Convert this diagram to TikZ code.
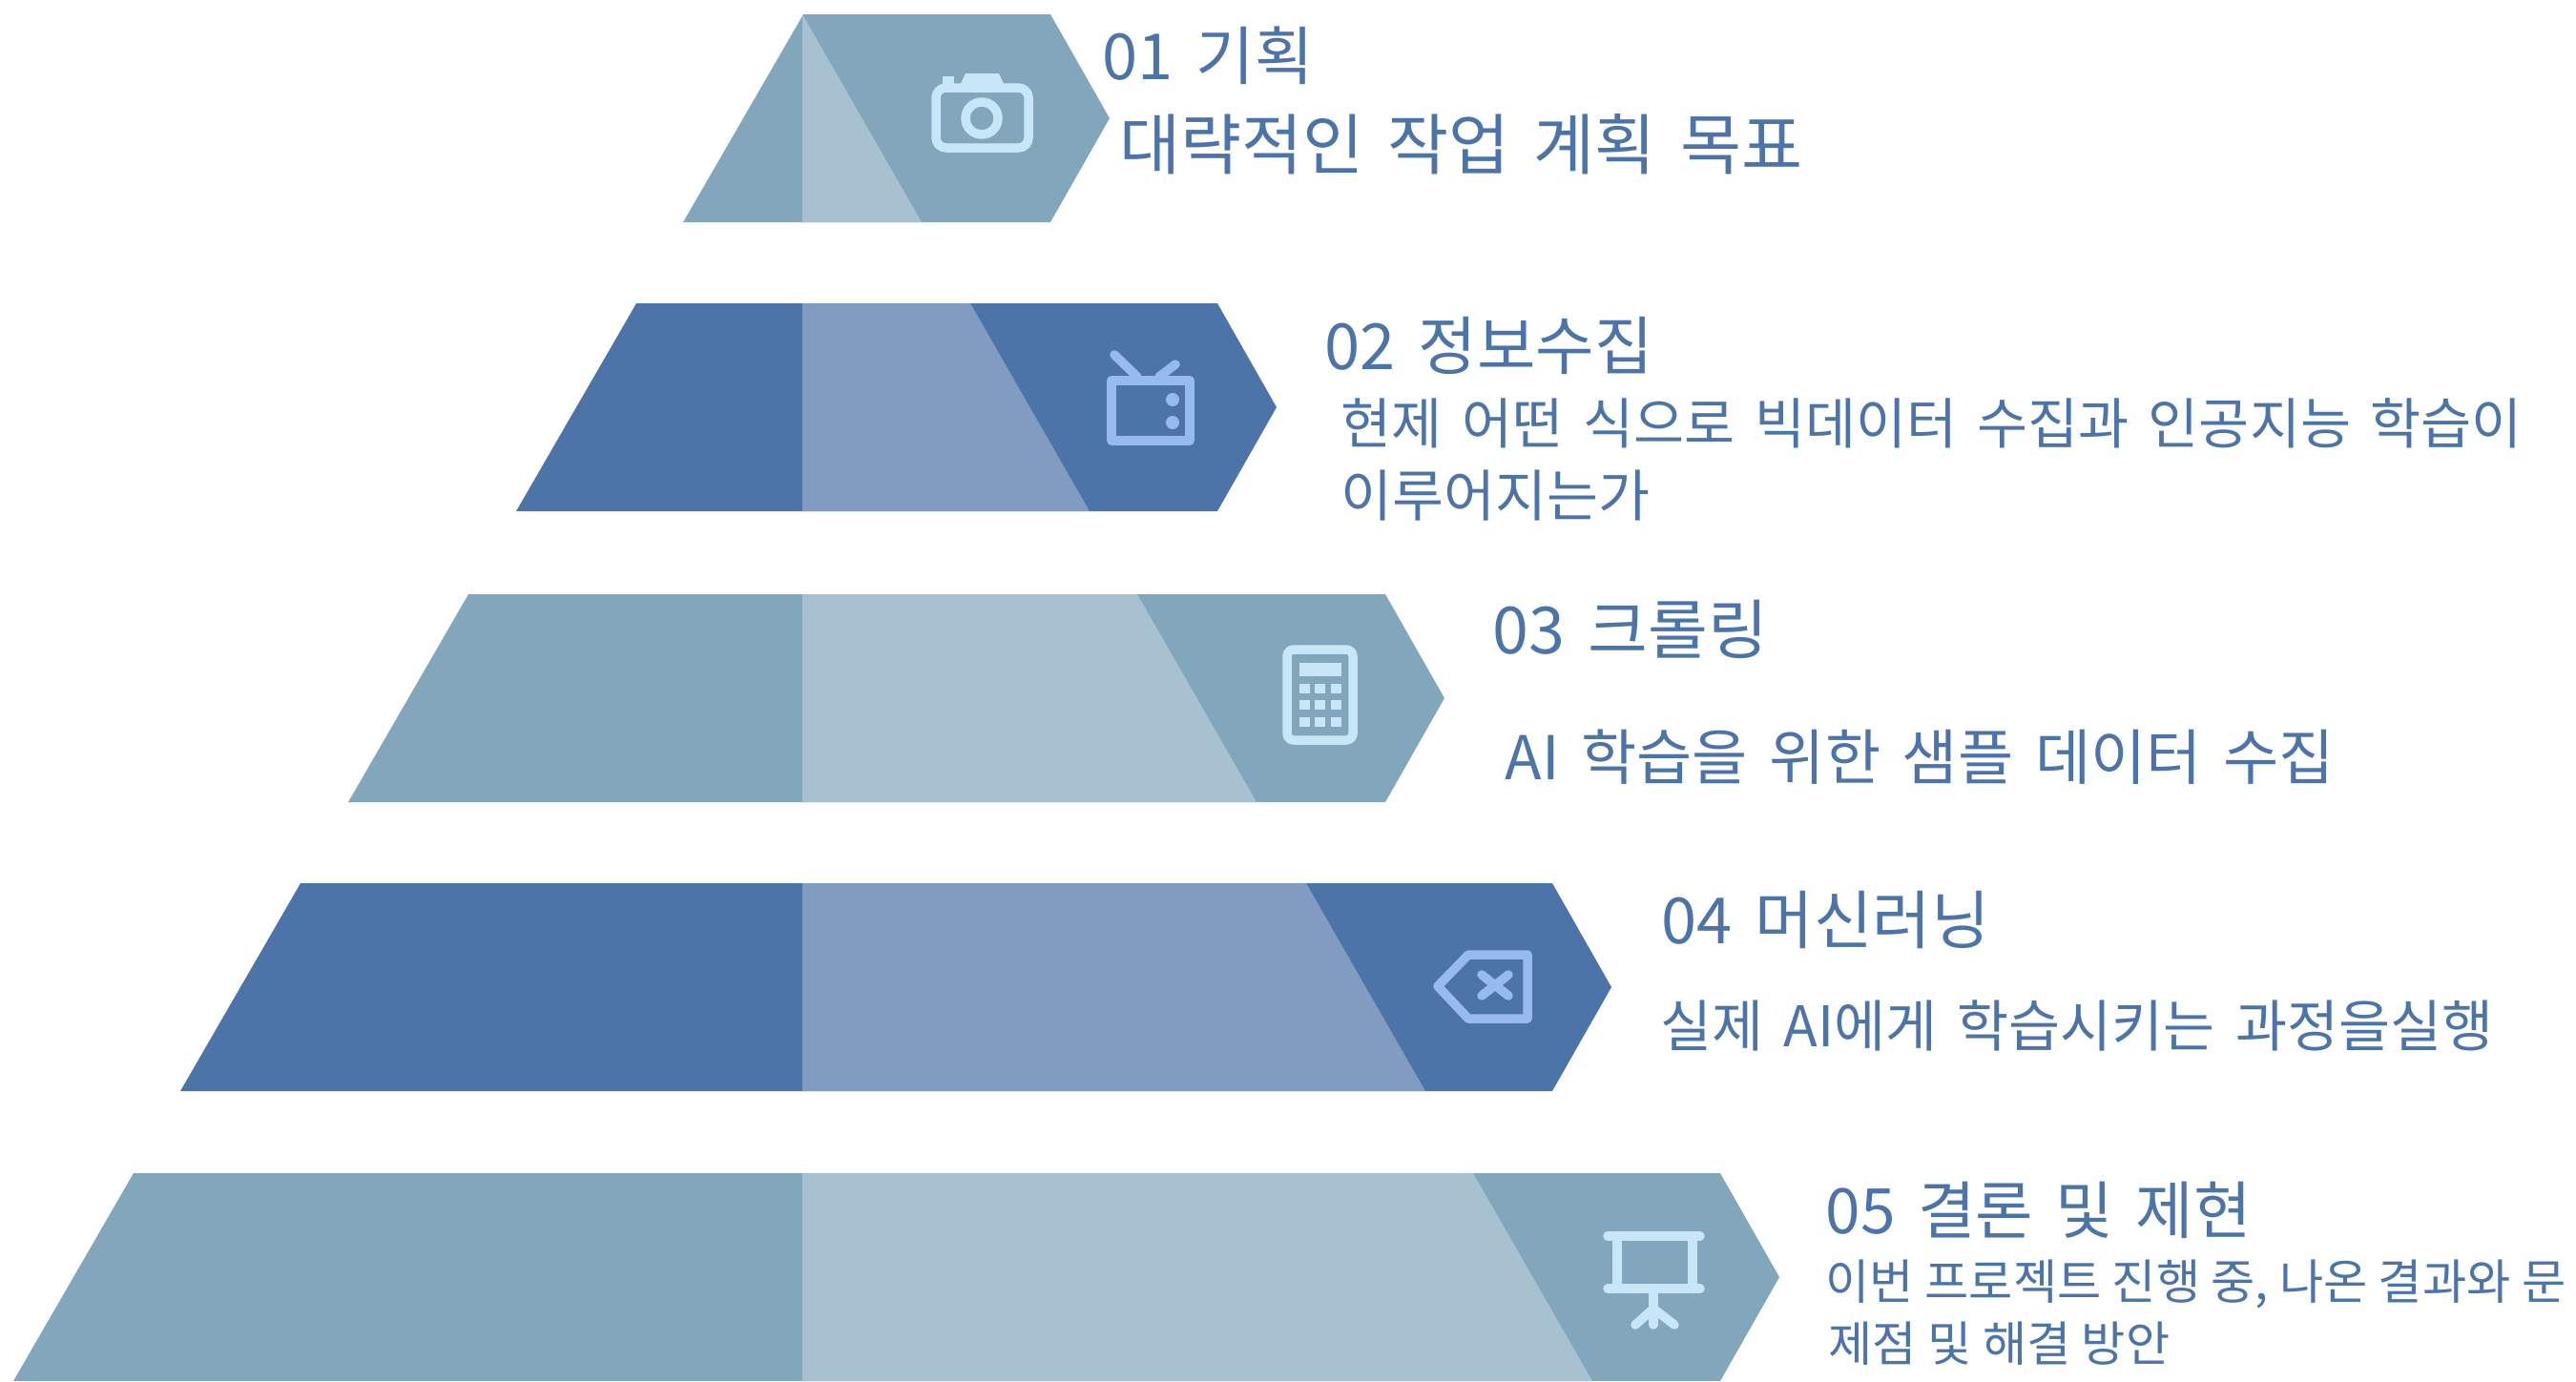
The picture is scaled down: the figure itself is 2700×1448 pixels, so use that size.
\documentclass[tikz,border=0pt]{standalone}
\usepackage{fontspec}
\setmainfont{Noto Sans CJK KR}[WordSpace=1.6]
\newfontfamily\tightfont{Noto Sans CJK KR}
\definecolor{tealband}{HTML}{82A7BC}
\definecolor{tealpale}{HTML}{A7C1D0}
\definecolor{tealicon}{HTML}{C9E6F8}
\definecolor{blueband}{HTML}{4C74A8}
\definecolor{bluepale}{HTML}{819CC0}
\definecolor{blueicon}{HTML}{98BBEF}
\tikzset{
  headline/.style={anchor=base west, inner sep=0pt, text=blueband, font=\fontsize{19}{23}\selectfont},
  bodyline/.style={anchor=base west, inner sep=0pt, text=blueband, font=\fontsize{16.4}{20}\selectfont},
  smallline/.style={anchor=base west, inner sep=0pt, text=blueband, font=\tightfont\fontsize{14.3}{18}\selectfont},
  tealglyph/.style={draw=tealicon, line width=2.7pt, line join=round, line cap=round},
  blueglyph/.style={draw=blueicon, line width=2.7pt, line join=round, line cap=round}
}
\begin{document}
\begin{tikzpicture}[x=0.01cm,y=-0.01cm]
\useasboundingbox (0,0) rectangle (2700,1448);

% bands of the pyramid
\foreach \yt/\xl/\xr/\xa/\col/\pale in
{15/716/1101/841/tealband/tealpale,318/541/1276/1017/blueband/bluepale,
 623/365/1452/1192/tealband/tealpale,926/189/1627/1369/blueband/bluepale,
 1230/14/1803/1544/tealband/tealpale}
{
\fill[\col] (\xl,\yt+218) -- ({\xl+126},\yt) -- (\xr,\yt) -- ({\xr+62},\yt+109) -- (\xr,\yt+218) -- cycle;
\fill[\pale] (841,\yt) -- (\xa,\yt) -- ({\xa+125},\yt+218) -- (841,\yt+218) -- cycle;
}

% camera
\draw[tealglyph, rounded corners=3pt] (981,92) rectangle (1078,155);
\fill[tealicon] (1006,90) -- (1012,77) -- (1047,77) -- (1053,90) -- cycle;
\fill[tealicon] (988,80) rectangle (1000,90);
\draw[tealglyph] (1029,124) circle (17);

% tv
\draw[blueglyph, line cap=butt] (1165,399) rectangle (1247,462);
\draw[blueglyph] (1168,372) -- (1192,395);
\draw[blueglyph] (1232,382) -- (1215,395);
\foreach \y in {419,443}
\fill[blueicon] (1229,\y) circle (7);

% calculator
\draw[tealglyph, rounded corners=2pt] (1349,681) rectangle (1418,776);
\fill[tealicon] (1362,695) rectangle (1406,709);
\foreach \x in {1362,1378,1395}
\foreach \y in {717,734,752}
\fill[tealicon] (\x,\y) rectangle +(11,10);

% backspace
\draw[blueglyph] (1507,1034) -- (1539,1001) -- (1601,1001) -- (1601,1068) -- (1539,1068) -- cycle;
\draw[blueglyph] (1553,1022) -- (1581,1044);
\draw[blueglyph] (1581,1022) -- (1553,1044);

% easel
\draw[tealglyph] (1685,1296) -- (1782,1296);
\draw[tealglyph] (1685,1351) -- (1782,1351);
\draw[tealglyph] (1695,1296) -- (1695,1351);
\draw[tealglyph] (1774,1296) -- (1774,1351);
\draw[tealglyph] (1733,1351) -- (1733,1389);
\draw[tealglyph] (1733,1372) -- (1714,1389);
\draw[tealglyph] (1733,1372) -- (1755,1389);

% texts
\node[headline] (head1) at (1155,83) {01 기획};
\node[headline, font=\fontsize{19.8}{24}\selectfont] (body1) at (1173,177) {대략적인 작업 계획 목표};
\node[headline] (head2) at (1388,387) {02 정보수집};
\node[bodyline] (body2a) at (1405,465) {현제 어떤 식으로 빅데이터 수집과 인공지능 학습이};
\node[bodyline, font=\fontsize{16.7}{20}\selectfont] (body2b) at (1405,541) {이루어지는가};
\node[headline, font=\fontsize{19.4}{23}\selectfont] (head3) at (1564,685) {03 크롤링};
\node[headline, font=\fontsize{18}{22}\selectfont] (body3) at (1577,817) {AI 학습을 위한 샘플 데이터 수집};
\node[headline] (head4) at (1741,989) {04 머신러닝};
\node[bodyline, font=\fontsize{16.7}{20}\selectfont] (body4) at (1740,1097) {실제 AI에게 학습시키는 과정을실행};
\node[headline, font=\fontsize{18.7}{23}\selectfont] (head5) at (1913,1293) {05 결론 및 제현};
\node[smallline] (body5a) at (1913,1362) {이번 프로젝트 진행 중, 나온 결과와 문};
\node[smallline] (body5b) at (1916,1427) {제점 및 해결 방안};
\end{tikzpicture}
\end{document}
